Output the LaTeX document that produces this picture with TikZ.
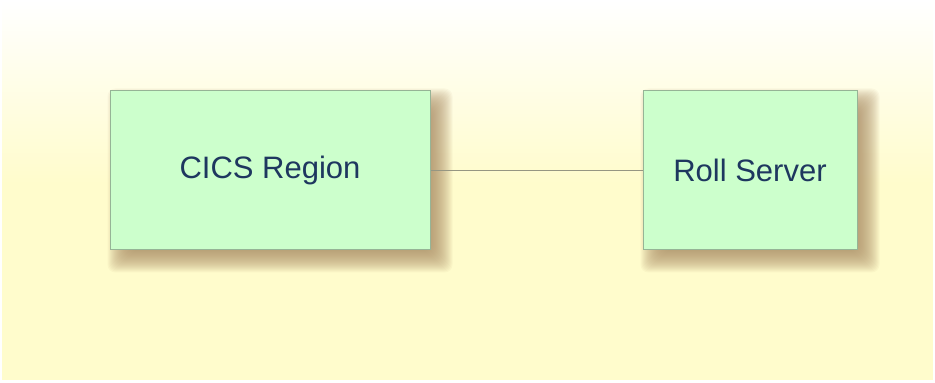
\documentclass[tikz,border=0pt]{standalone}
\usepackage{fontspec}
\setmainfont{Liberation Sans}
\usetikzlibrary{backgrounds}
\definecolor{boxgreen}{RGB}{204,255,204}
\definecolor{boxedge}{RGB}{150,180,150}
\definecolor{textblue}{RGB}{30,55,95}
\definecolor{paleyellow}{RGB}{255,252,204}
\definecolor{linegray}{RGB}{150,150,130}
\definecolor{shadowtan}{RGB}{170,140,100}
\tikzset{
  sysbox/.style={draw=boxedge, fill=boxgreen, line width=1pt,
    font=\fontsize{31}{36}\selectfont, text=textblue},
  shadowstep/.style={fill=shadowtan, fill opacity=0.06, rounded corners=8pt},
  link/.style={draw=linegray, line width=1pt}
}
\begin{document}
\begin{tikzpicture}[x=1pt,y=1pt]
        \useasboundingbox (0,0) rectangle (935,383);
        \node[sysbox, minimum width=320pt, minimum height=159pt] (cics) at (270,212.5) {CICS Region};
        \node[sysbox, minimum width=214pt, minimum height=159pt] (roll) at (750,212.5) {Roll Server};
        \draw[link] (cics.east) -- (roll.west);
        \begin{scope}[on background layer]
            % background
            \fill[paleyellow] (2,3) rectangle (933,200);
            \shade[top color=white, bottom color=paleyellow] (2,200) rectangle (933,383);
            % soft shadows
            \foreach \b in {cics,roll}
                \foreach \e in {0,...,24}
                    \fill[shadowstep] ([shift={(\e-2,\e-22)}]\b.south west) rectangle ([shift={(22-\e,2-\e)}]\b.north east);
        \end{scope}
    \end{tikzpicture}
\end{document}
